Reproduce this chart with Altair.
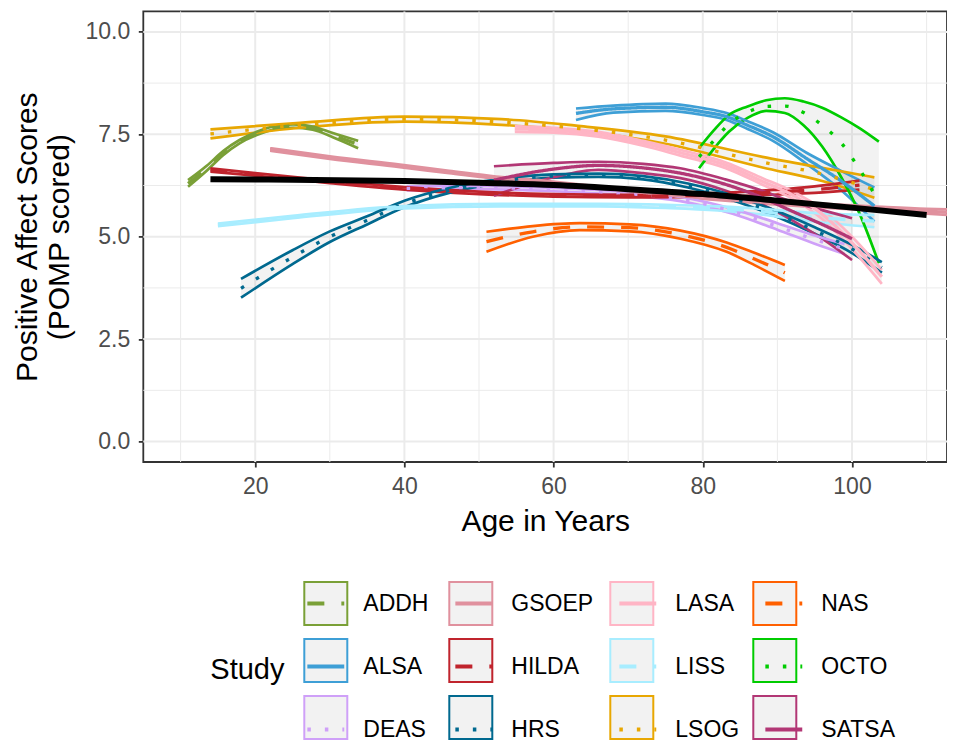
import altair as alt
import pandas as pd

FONT = "Liberation Sans"

studies = ["ADDH", "ALSA", "DEAS", "GSOEP", "HILDA", "HRS", "LASA", "LISS", "LSOG", "NAS", "OCTO", "SATSA"]
colors = ["#7AA037", "#3E9FD6", "#CFA0F8", "#E0919E", "#C0242D", "#00698F",
          "#FFB5C5", "#A8EDFF", "#E8A702", "#FF6000", "#00CC00", "#B23775"]
linetypes = ["dashed", "solid", "dotted", "solid", "dashed", "dotted",
             "solid", "dashed", "dotted", "dashed", "dotted", "solid"]
# a different ordering for the box-key scale (keeps the two keys from being merged)
box_order = ["SATSA", "OCTO", "NAS", "LSOG", "LISS", "LASA", "HRS", "HILDA", "GSOEP", "DEAS", "ALSA", "ADDH"]

x_major = [20, 40, 60, 80, 100]
x_minor = [10, 30, 50, 70, 90, 110]
y_major = [0, 2.5, 5, 7.5, 10]
y_minor = [1.25, 3.75, 6.25, 8.75]

addh_age = [11, 13.5, 15.7, 17.9, 20.2, 22.4, 25.1, 27.7, 30.4, 33.8]
addh_lo = [6.22, 6.61, 6.99, 7.28, 7.48, 7.61, 7.66, 7.61, 7.43, 7.16]
addh_mid = [6.30, 6.67, 7.04, 7.32, 7.52, 7.65, 7.70, 7.65, 7.48, 7.25]
addh_hi = [6.38, 6.73, 7.09, 7.36, 7.56, 7.69, 7.74, 7.69, 7.53, 7.34]

alsa_age = [63, 68, 75, 80, 83.2, 86, 89.4, 93.9, 98.4, 103]
alsa_lo = [7.85, 8.03, 8.07, 7.97, 7.85, 7.63, 7.34, 6.78, 6.16, 5.37]
alsa_mid = [8.01, 8.12, 8.16, 8.05, 7.93, 7.72, 7.44, 6.91, 6.38, 5.75]
alsa_hi = [8.13, 8.20, 8.25, 8.14, 8.02, 7.82, 7.55, 7.05, 6.62, 6.20]

deas_age = [40.3, 50, 60, 70, 77, 84, 90, 95, 99]
deas_lo = [6.13, 6.16, 6.11, 6.01, 5.87, 5.56, 5.17, 4.83, 4.58]
deas_mid = [6.18, 6.20, 6.15, 6.05, 5.92, 5.62, 5.25, 4.93, 4.70]
deas_hi = [6.23, 6.24, 6.19, 6.09, 5.97, 5.68, 5.33, 5.03, 4.82]

gsoep_age = [22, 30, 39.4, 46, 52.3, 58, 65, 72, 80, 90, 102.8, 110, 114]
gsoep_lo = [7.10, 6.90, 6.70, 6.55, 6.41, 6.32, 6.19, 6.05, 5.92, 5.78, 5.64, 5.56, 5.52]
gsoep_mid = [7.13, 6.93, 6.73, 6.58, 6.44, 6.35, 6.22, 6.08, 5.95, 5.82, 5.69, 5.62, 5.59]
gsoep_hi = [7.16, 6.96, 6.76, 6.61, 6.47, 6.38, 6.25, 6.11, 5.98, 5.86, 5.74, 5.68, 5.66]

hilda_age = [14, 20, 30, 40, 50, 60, 70, 80, 90, 95, 101]
hilda_lo = [6.59, 6.49, 6.31, 6.15, 6.04, 5.98, 5.96, 5.97, 6.03, 6.07, 6.15]
hilda_mid = [6.63, 6.52, 6.34, 6.18, 6.07, 6.01, 5.99, 6.01, 6.09, 6.15, 6.26]
hilda_hi = [6.67, 6.55, 6.37, 6.21, 6.10, 6.04, 6.02, 6.05, 6.15, 6.23, 6.37]

hrs_age = [18.1, 25, 30, 35, 40, 46, 53, 60, 66, 72, 78, 84, 90, 95, 100, 104]
hrs_lo = [3.51, 4.33, 4.87, 5.30, 5.72, 6.07, 6.31, 6.44, 6.46, 6.40, 6.20, 5.89, 5.48, 5.07, 4.60, 4.12]
hrs_mid = [3.74, 4.50, 5.00, 5.40, 5.80, 6.13, 6.36, 6.48, 6.50, 6.44, 6.25, 5.95, 5.55, 5.15, 4.70, 4.25]
hrs_hi = [3.97, 4.67, 5.13, 5.50, 5.88, 6.19, 6.41, 6.52, 6.54, 6.48, 6.30, 6.01, 5.62, 5.23, 4.80, 4.38]

lasa_age = [54.8, 60, 66, 72, 77, 83, 88, 92, 96, 100, 104]
lasa_lo = [7.56, 7.54, 7.44, 7.22, 6.98, 6.68, 6.27, 5.93, 5.43, 4.70, 3.85]
lasa_mid = [7.63, 7.60, 7.50, 7.28, 7.05, 6.75, 6.35, 6.02, 5.55, 4.85, 4.02]
lasa_hi = [7.70, 7.66, 7.56, 7.34, 7.12, 6.82, 6.43, 6.11, 5.67, 5.00, 4.19]

liss_age = [15, 25, 40, 53, 66, 75, 82, 88, 94, 103]
liss_lo = [5.26, 5.45, 5.69, 5.74, 5.74, 5.70, 5.64, 5.54, 5.39, 5.23]
liss_mid = [5.29, 5.48, 5.72, 5.77, 5.77, 5.74, 5.69, 5.61, 5.49, 5.38]
liss_hi = [5.32, 5.51, 5.75, 5.80, 5.80, 5.78, 5.74, 5.68, 5.59, 5.53]

lsog_age = [14, 26, 40, 53, 63, 75, 88, 96, 103]
lsog_lo = [7.40, 7.66, 7.81, 7.73, 7.59, 7.27, 6.69, 6.36, 5.95]
lsog_mid = [7.51, 7.72, 7.87, 7.80, 7.65, 7.36, 6.82, 6.53, 6.15]
lsog_hi = [7.62, 7.78, 7.93, 7.87, 7.71, 7.45, 6.95, 6.68, 6.45]

nas_age = [51, 57.2, 63.5, 70.2, 77, 83.2, 87, 91]
nas_lo = [4.63, 5.00, 5.16, 5.13, 4.95, 4.63, 4.30, 3.92]
nas_mid = [4.88, 5.12, 5.24, 5.22, 5.05, 4.74, 4.45, 4.12]
nas_hi = [5.12, 5.26, 5.33, 5.30, 5.15, 4.86, 4.60, 4.31]

octo_age = [79.5, 81.5, 83.5, 86, 88.5, 91, 93.5, 96, 98.5, 101, 103.6]
octo_lo = [6.67, 7.15, 7.56, 7.90, 8.07, 8.02, 7.72, 7.20, 6.47, 5.57, 4.35]
octo_mid = [6.95, 7.35, 7.75, 8.04, 8.18, 8.19, 8.03, 7.72, 7.30, 6.65, 5.85]
octo_hi = [7.16, 7.60, 7.97, 8.18, 8.33, 8.38, 8.30, 8.15, 7.92, 7.65, 7.32]

satsa_age = [52, 60, 66, 72, 77, 83, 88, 92, 96, 100]
satsa_lo = [6.00, 6.45, 6.63, 6.55, 6.43, 6.13, 5.78, 5.40, 4.95, 4.43]
satsa_mid = [6.38, 6.65, 6.74, 6.68, 6.55, 6.28, 5.95, 5.62, 5.30, 4.95]
satsa_hi = [6.72, 6.80, 6.83, 6.78, 6.67, 6.40, 6.12, 5.85, 5.65, 5.45]

overall_age = [14, 25, 40, 50, 60, 70, 80, 90, 100, 110]
overall_val = [6.40, 6.39, 6.36, 6.32, 6.26, 6.16, 6.04, 5.88, 5.71, 5.53]

series = {
    "ADDH": (addh_age, addh_lo, addh_mid, addh_hi),
    "ALSA": (alsa_age, alsa_lo, alsa_mid, alsa_hi),
    "DEAS": (deas_age, deas_lo, deas_mid, deas_hi),
    "GSOEP": (gsoep_age, gsoep_lo, gsoep_mid, gsoep_hi),
    "HILDA": (hilda_age, hilda_lo, hilda_mid, hilda_hi),
    "HRS": (hrs_age, hrs_lo, hrs_mid, hrs_hi),
    "LASA": (lasa_age, lasa_lo, lasa_mid, lasa_hi),
    "LISS": (liss_age, liss_lo, liss_mid, liss_hi),
    "LSOG": (lsog_age, lsog_lo, lsog_mid, lsog_hi),
    "NAS": (nas_age, nas_lo, nas_mid, nas_hi),
    "OCTO": (octo_age, octo_lo, octo_mid, octo_hi),
    "SATSA": (satsa_age, satsa_lo, satsa_mid, satsa_hi),
}

rows = []
for name, (a, lo, mid, hi) in series.items():
    for i in range(len(a)):
        rows.append({"Study": name, "age": a[i], "lo": lo[i], "mid": mid[i], "hi": hi[i]})
df = pd.DataFrame(rows)
edges_df = df.melt(id_vars=["Study", "age"], value_vars=["lo", "hi"], var_name="bound", value_name="val")
overall_df = pd.DataFrame({"age": overall_age, "val": overall_val})

dash_map = {"solid": [1, 0], "dashed": [17, 17], "dotted": [3.5, 14]}
col_of = dict(zip(studies, colors))

PANEL_W = 803.7
PANEL_H = 450.6
xs = alt.Scale(domain=[5, 5 + PANEL_W / 7.46], nice=False, zero=False)
ys = alt.Scale(domain=[-0.5, 10.5], nice=False, zero=False)

common_axis = dict(grid=False, domain=False, tickSize=5, tickWidth=1.8, tickColor="#333333",
                   labelFont=FONT, labelFontSize=23, labelColor="#4D4D4D",
                   titleFont=FONT, titleFontSize=30, titleFontWeight="normal", titleColor="black")
x_axis = alt.Axis(values=x_major, title="Age in Years", labelPadding=8, titlePadding=8, **common_axis)
y_axis = alt.Axis(values=y_major, format=".1f", title=["Positive Affect Scores", "(POMP scored)"],
                  labelPadding=8.5, titlePadding=11, titleLineHeight=32, **common_axis)

LEG_X = 67.0
LEG_Y = 569.6
legend_common = dict(orient="none", legendX=LEG_X, legendY=LEG_Y, columns=4, padding=0,
                     title="Study", titleOrient="left", titleAnchor="middle", titleBaseline="middle",
                     titleFont=FONT, titleFontSize=29, titleFontWeight="normal", titleColor="black",
                     titlePadding=18, labelFont=FONT, labelFontSize=23, labelColor="black",
                     labelOffset=15, columnPadding=16, rowPadding=6, gridAlign="each")

line_legend = alt.Legend(symbolType="M-1,-1M1,1M-0.9,0H0.9", symbolSize=1681, symbolStrokeWidth=4,
                         zindex=2, **legend_common)
box_legend = alt.Legend(symbolType="square", symbolSize=1849, symbolStrokeWidth=2,
                        symbolFillColor="#F2F2F2", labelOpacity=0, titleOpacity=0,
                        values=studies, zindex=1, **legend_common)


def X(field):
    return alt.X(field, scale=xs, axis=x_axis)


def Y(field):
    return alt.Y(field, scale=ys, axis=y_axis)


grid_x_minor = alt.Chart(pd.DataFrame({"v": x_minor})).mark_rule(color="#EBEBEB", strokeWidth=1).encode(
    x=X("v:Q"))
grid_x_major = alt.Chart(pd.DataFrame({"v": x_major})).mark_rule(color="#EBEBEB", strokeWidth=2).encode(
    x=X("v:Q"))
grid_y_minor = alt.Chart(pd.DataFrame({"v": y_minor})).mark_rule(color="#EBEBEB", strokeWidth=1).encode(
    y=Y("v:Q"))
grid_y_major = alt.Chart(pd.DataFrame({"v": y_major})).mark_rule(color="#EBEBEB", strokeWidth=2).encode(
    y=Y("v:Q"))

ribbons = alt.Chart(df).mark_area(fill="#999999", opacity=0.13, interpolate="monotone", clip=True).encode(
    x=X("age:Q"),
    y=Y("lo:Q"),
    y2="hi:Q",
    detail="Study:N",
)

edges = alt.Chart(edges_df).mark_line(strokeWidth=2.7, interpolate="monotone", clip=True).encode(
    x=X("age:Q"),
    y=Y("val:Q"),
    stroke=alt.Stroke("Study:N", scale=alt.Scale(domain=box_order, range=[col_of[s] for s in box_order]),
                      legend=box_legend),
    detail="bound:N",
)

centers = alt.Chart(df).mark_line(strokeWidth=3.3, interpolate="monotone", clip=True).encode(
    x=X("age:Q"),
    y=Y("mid:Q"),
    color=alt.Color("Study:N", scale=alt.Scale(domain=studies, range=colors), legend=line_legend),
    strokeDash=alt.StrokeDash("Study:N", scale=alt.Scale(domain=studies,
                                                         range=[dash_map[t] for t in linetypes]),
                              legend=line_legend),
)

overall = alt.Chart(overall_df).mark_line(color="black", strokeWidth=6, interpolate="monotone", clip=True).encode(
    x=X("age:Q"),
    y=Y("val:Q"),
)

chart = alt.layer(grid_x_minor, grid_x_major, grid_y_minor, grid_y_major,
                  ribbons, edges, centers, overall).properties(
    width=PANEL_W, height=PANEL_H,
    padding={"left": 135.3, "top": 3.4, "right": 0, "bottom": 285},
    autosize=alt.AutoSizeParams(type="none"),
    background="white",
).configure_view(stroke="#333333", strokeWidth=1.8)

chart.save("out.html", embed_options={"renderer": "svg", "actions": False})
